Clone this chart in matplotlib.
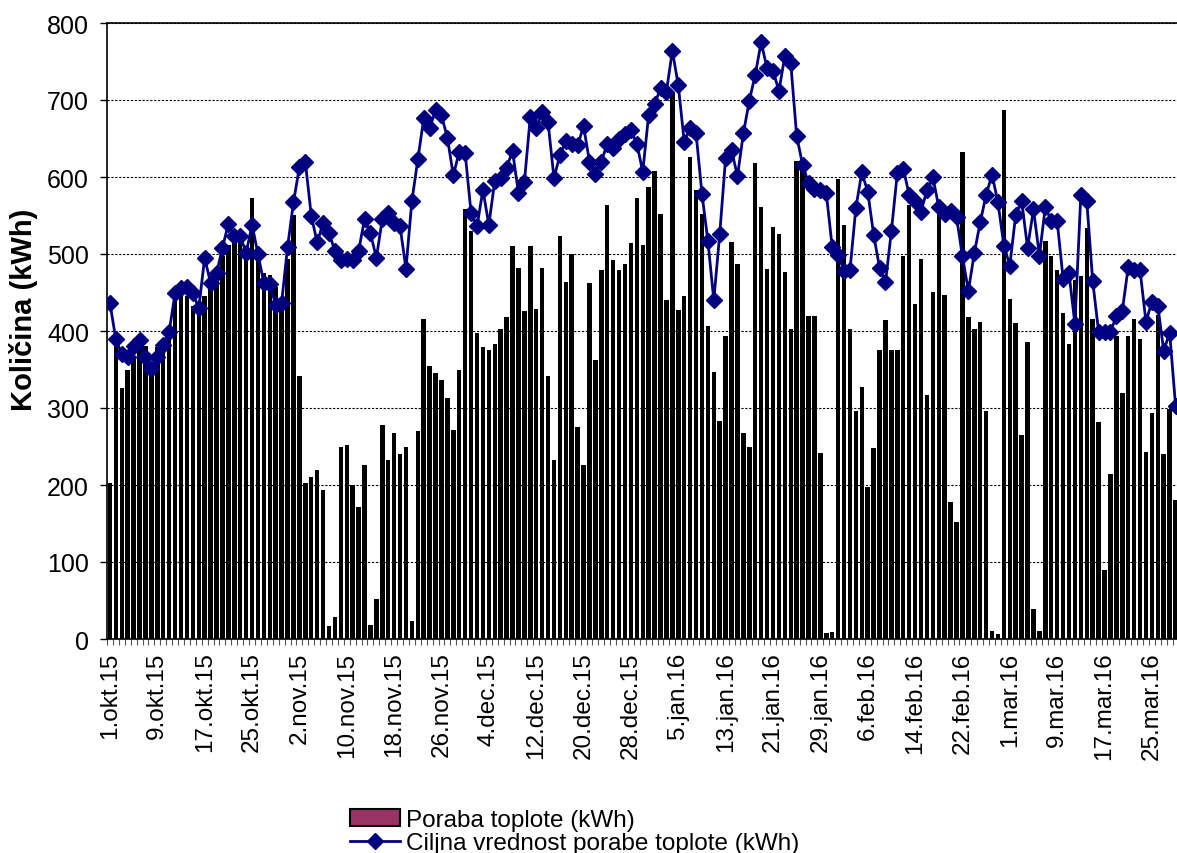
import matplotlib
matplotlib.use("Agg")
import matplotlib.pyplot as plt
import numpy as np
from matplotlib.patches import Patch
from matplotlib.lines import Line2D

plt.rcParams['font.family'] = ['Liberation Sans', 'DejaVu Sans']

# Daily heat consumption, 1.okt.15 onwards (kWh)
poraba = [
    203, 383, 326, 350, 365, 378, 381, 353, 379, 384, 399, 440, 446, 446, 433, 433,
    446, 456, 467, 498, 512, 522, 520, 510, 573, 509, 475, 473, 457, 441, 493, 551,
    342, 203, 210, 220, 194, 17, 29, 249, 252, 200, 172, 226, 18, 52, 278, 233,
    268, 240, 250, 23, 270, 415, 355, 345, 337, 313, 271, 350, 558, 530, 397, 379,
    375, 383, 402, 418, 511, 482, 426, 510, 428, 482, 342, 233, 523, 463, 500, 275,
    226, 462, 362, 479, 564, 492, 479, 487, 514, 573, 512, 587, 608, 552, 440, 711,
    427, 446, 626, 583, 552, 406, 347, 283, 394, 515, 487, 268, 250, 618, 561, 480,
    535, 526, 477, 402, 621, 624, 420, 420, 242, 8, 9, 597, 538, 403, 296, 327,
    198, 248, 375, 414, 375, 375, 498, 564, 435, 493, 317, 451, 561, 447, 178, 152,
    632, 418, 403, 412, 296, 11, 6, 687, 442, 410, 265, 386, 39, 10, 517, 498,
    479, 423, 383, 466, 472, 534, 416, 282, 89, 214, 393, 320, 393, 415, 389, 243,
    293, 421, 240, 299, 181,
]

# Daily target consumption (kWh)
ciljna = [
    436, 389, 370, 366, 380, 388, 366, 351, 366, 382, 399, 449, 456, 457, 449, 430,
    495, 462, 475, 508, 539, 523, 524, 501, 538, 500, 462, 461, 434, 437, 509, 567,
    613, 620, 550, 515, 540, 527, 504, 492, 494, 492, 504, 545, 527, 495, 545, 553,
    540, 536, 481, 569, 623, 676, 663, 687, 680, 651, 602, 633, 631, 553, 536, 583,
    538, 595, 599, 612, 634, 579, 593, 678, 663, 684, 671, 599, 628, 647, 643, 641,
    666, 620, 604, 620, 643, 638, 650, 656, 661, 643, 607, 681, 695, 715, 711, 764,
    719, 646, 663, 657, 578, 517, 440, 526, 625, 635, 601, 657, 699, 733, 775, 741,
    738, 712, 757, 748, 653, 616, 592, 584, 583, 579, 509, 499, 478, 479, 560, 606,
    581, 525, 482, 463, 530, 605, 611, 577, 569, 555, 583, 600, 561, 552, 556, 548,
    497, 452, 501, 541, 577, 603, 567, 511, 485, 551, 569, 508, 558, 498, 561, 543,
    543, 468, 475, 409, 577, 569, 465, 399, 399, 399, 419, 426, 483, 479, 479, 412,
    438, 433, 374, 398, 303,
]

n_days = 183  # 1.okt.15 - 31.mar.16
tick_days = list(range(0, 177, 8))
tick_labels = [
    "1.okt.15", "9.okt.15", "17.okt.15", "25.okt.15", "2.nov.15", "10.nov.15",
    "18.nov.15", "26.nov.15", "4.dec.15", "12.dec.15", "20.dec.15", "28.dec.15",
    "5.jan.16", "13.jan.16", "21.jan.16", "29.jan.16", "6.feb.16", "14.feb.16",
    "22.feb.16", "1.mar.16", "9.mar.16", "17.mar.16", "25.mar.16",
]

W, H = 1177, 854
fig = plt.figure(figsize=(W / 100, H / 100), dpi=100)
left_px, top_px, bottom_px = 107, 24, 640
day_px = 5.92
ax = fig.add_axes([left_px / W, 1 - bottom_px / H,
                   n_days * day_px / W, (bottom_px - top_px) / H])

x = np.arange(len(poraba))
ax.bar(x, poraba, width=0.76, color='black', zorder=2)
ax.plot(np.arange(len(ciljna)), ciljna, color='#000080', lw=2.0, marker='D',
        markersize=8.5, markerfacecolor='#000080', markeredgecolor='#000080', zorder=3)

ax.set_xlim(-0.5, n_days - 0.5)
ax.set_ylim(0, 800)
ax.set_yticks(range(0, 801, 100))
ax.yaxis.grid(True, color='black', linestyle=(0, (2, 1.5)), linewidth=0.8, zorder=0)
ax.set_axisbelow(True)

ax.set_xticks(tick_days)
ax.set_xticklabels(tick_labels, rotation=90, fontsize=17.5)
ax.set_xticks(np.arange(-0.5, n_days, 1), minor=True)
ax.tick_params(axis='x', which='major', length=0, pad=9)
ax.tick_params(axis='x', which='minor', length=4.5, width=0.8, color='#555555', direction='out')
ax.tick_params(axis='y', which='major', length=5, width=1, pad=8, labelsize=18)

for s in ax.spines.values():
    s.set_color('black')
    s.set_linewidth(1.2)

fig.text(24 / W, 1 - 310 / H, 'Količina (kWh)', rotation=90, fontsize=21,
         fontweight='bold', ha='center', va='center')

handles = [
    Patch(facecolor='#993366', edgecolor='black', linewidth=1.5),
    Line2D([], [], color='#000080', lw=2.0, marker='D', markersize=8.5),
]
labels = ['Poraba toplote (kWh)', 'Ciljna vrednost porabe toplote (kWh)']
fig.legend(handles, labels, loc='upper left', bbox_to_anchor=(350 / W, 1 - 810 / H),
           frameon=False, fontsize=17.5, borderpad=0, borderaxespad=0,
           handlelength=2.05, handleheight=0.65, handletextpad=0.25,
           labelspacing=0.05, numpoints=1)

fig.savefig('out.png', dpi=100)
